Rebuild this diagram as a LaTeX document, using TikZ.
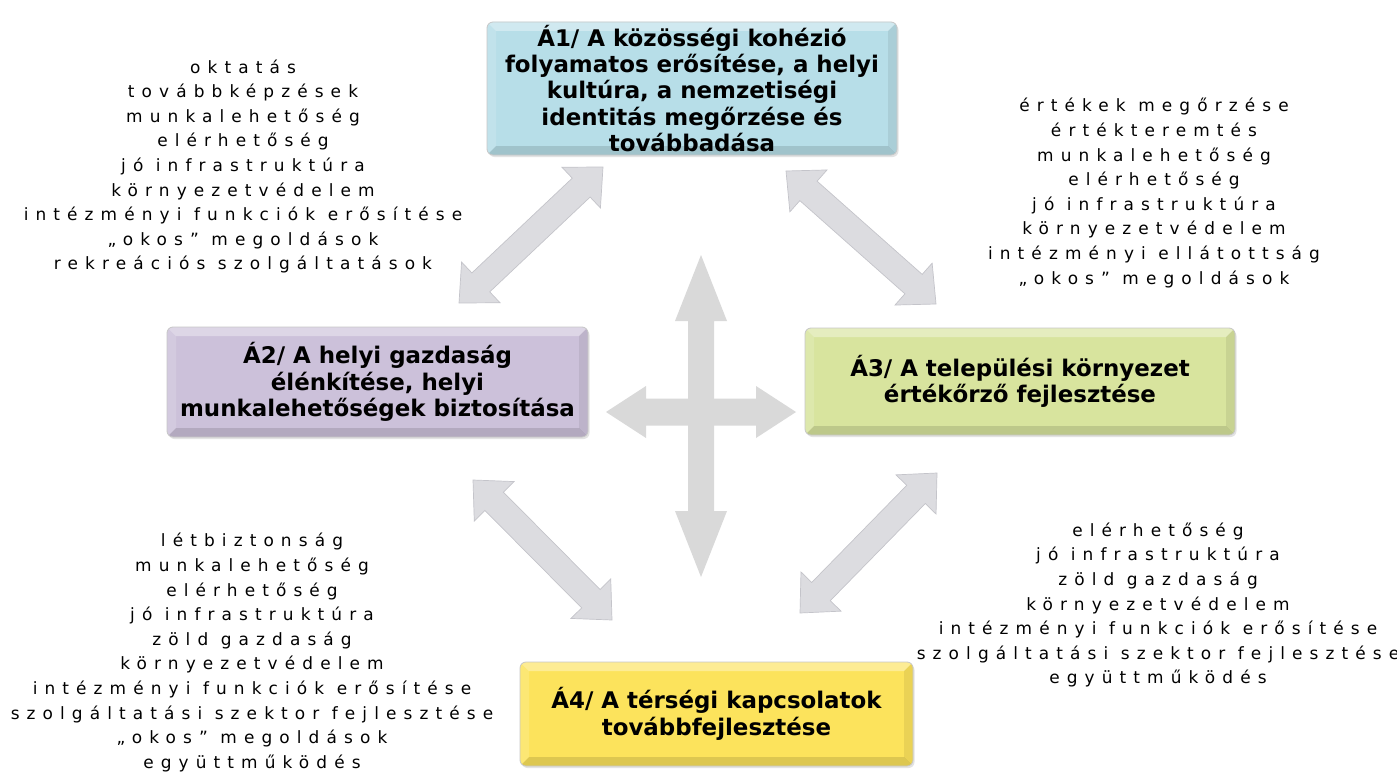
\documentclass[tikz,border=0pt]{standalone}
\usepackage{fontspec}
\setmainfont{DejaVu Sans}
\newfontfamily\listfont[LetterSpace=42]{DejaVu Sans}
\usetikzlibrary{calc,shadows}
\definecolor{cA}{HTML}{B7DEE8}
\definecolor{cB}{HTML}{CCC1DA}
\definecolor{cC}{HTML}{D8E49E}
\definecolor{cD}{HTML}{FCE35C}
\definecolor{arr}{HTML}{DCDCE0}
\definecolor{arredge}{HTML}{C4C4CA}
\definecolor{cross}{HTML}{D9D9D9}
\newcommand\blockarr[6][]{%
\filldraw[#1] (#2) -- ($(#2)!#5!(#3)!#6!90:(#3)$) -- ($(#2)!#5!(#3)!#4!90:(#3)$)
 -- ($(#3)!#5!(#2)!#4!-90:(#2)$) -- ($(#3)!#5!(#2)!#6!-90:(#2)$) -- (#3)
 -- ($(#3)!#5!(#2)!#6!90:(#2)$) -- ($(#3)!#5!(#2)!#4!90:(#2)$)
 -- ($(#2)!#5!(#3)!#4!-90:(#3)$) -- ($(#2)!#5!(#3)!#6!-90:(#3)$) -- cycle;}
\tikzset{
 box/.style={rounded corners=6bp, draw=black!22, line width=0.8bp, align=center,
   font=\fontsize{23}{26.5}\selectfont\bfseries, inner sep=0pt,
   drop shadow={opacity=0.22, shadow xshift=1.5bp, shadow yshift=-2bp},
   path picture={
     \fill[white,opacity=0.35,sharp corners] (path picture bounding box.north west) -- (path picture bounding box.north east) -- ([shift={(-9bp,-9bp)}]path picture bounding box.north east) -- ([shift={(9bp,-9bp)}]path picture bounding box.north west) -- cycle;
     \fill[white,opacity=0.15,sharp corners] (path picture bounding box.north west) -- (path picture bounding box.south west) -- ([shift={(9bp,9bp)}]path picture bounding box.south west) -- ([shift={(9bp,-9bp)}]path picture bounding box.north west) -- cycle;
     \fill[black,opacity=0.12,sharp corners] (path picture bounding box.south west) -- (path picture bounding box.south east) -- ([shift={(-9bp,9bp)}]path picture bounding box.south east) -- ([shift={(9bp,9bp)}]path picture bounding box.south west) -- cycle;
     \fill[black,opacity=0.07,sharp corners] (path picture bounding box.north east) -- (path picture bounding box.south east) -- ([shift={(-9bp,9bp)}]path picture bounding box.south east) -- ([shift={(-9bp,-9bp)}]path picture bounding box.north east) -- cycle;
   }},
 lst/.style={align=center, font=\listfont\fontsize{17}{24.7}\selectfont, inner sep=0pt},
 diag/.style={fill=arr, draw=arredge, line width=0.7bp, line join=miter},
 crossarr/.style={fill=cross, draw=none},
}
\begin{document}
\begin{tikzpicture}[x=1bp,y=-1bp]
\fill[white] (0,0) rectangle (1397,771);
\useasboundingbox (0,0) rectangle (1397,771);

% cross arrows
\coordinate (vt) at (701,255);
\coordinate (vb) at (701,577);
\coordinate (hl) at (606,412);
\coordinate (hr) at (796,412);
\blockarr[crossarr]{vt}{vb}{13bp}{66bp}{26bp}
\blockarr[crossarr]{hl}{hr}{13.5bp}{40bp}{26bp}

% diagonal arrows
\coordinate (tla) at (603,167); \coordinate (tlb) at (459,303);
\coordinate (tra) at (786,171); \coordinate (trb) at (936,304);
\coordinate (bla) at (473,480); \coordinate (blb) at (612,620);
\coordinate (bra) at (937,473); \coordinate (brb) at (800,613);
\blockarr[diag]{tla}{tlb}{13bp}{30bp}{28bp}
\blockarr[diag]{tra}{trb}{13bp}{30bp}{28bp}
\blockarr[diag]{bla}{blb}{13bp}{30bp}{28bp}
\blockarr[diag]{bra}{brb}{13bp}{30bp}{28bp}

% boxes
\node[box, fill=cA, minimum width=410bp, minimum height=133bp] (a1) at (692,88.5)
 {Á1/ A közösségi kohézió\\folyamatos erősítése, a helyi\\kultúra, a nemzetiségi\\identitás megőrzése és\\továbbadása};
\node[box, fill=cB, minimum width=421bp, minimum height=110bp] (a2) at (377.5,382)
 {Á2/ A helyi gazdaság\\élénkítése, helyi\\munkalehetőségek biztosítása};
\node[box, fill=cC, minimum width=430bp, minimum height=107bp] (a3) at (1020,381.5)
 {Á3/ A települési környezet\\értékőrző fejlesztése};
\node[box, fill=cD, minimum width=393bp, minimum height=104bp] (a4) at (716.5,714)
 {Á4/ A térségi kapcsolatok\\továbbfejlesztése};

% lists
\node[lst] (l1) at (243,166.5) {oktatás\\továbbképzések\\munkalehetőség\\elérhetőség\\jó infrastruktúra\\környezetvédelem\\intézményi funkciók erősítése\\„okos” megoldások\\rekreációs szolgáltatások};
\node[lst] (l3) at (1154,193) {értékek megőrzése\\értékteremtés\\munkalehetőség\\elérhetőség\\jó infrastruktúra\\környezetvédelem\\intézményi ellátottság\\„okos” megoldások};
\node[lst] (l2) at (252,652.5) {létbiztonság\\munkalehetőség\\elérhetőség\\jó infrastruktúra\\zöld gazdaság\\környezetvédelem\\intézményi funkciók erősítése\\szolgáltatási szektor fejlesztése\\„okos” megoldások\\együttműködés};
\node[lst] (l4) at (1158,605) {elérhetőség\\jó infrastruktúra\\zöld gazdaság\\környezetvédelem\\intézményi funkciók erősítése\\szolgáltatási szektor fejlesztése\\együttműködés};
\end{tikzpicture}
\end{document}
